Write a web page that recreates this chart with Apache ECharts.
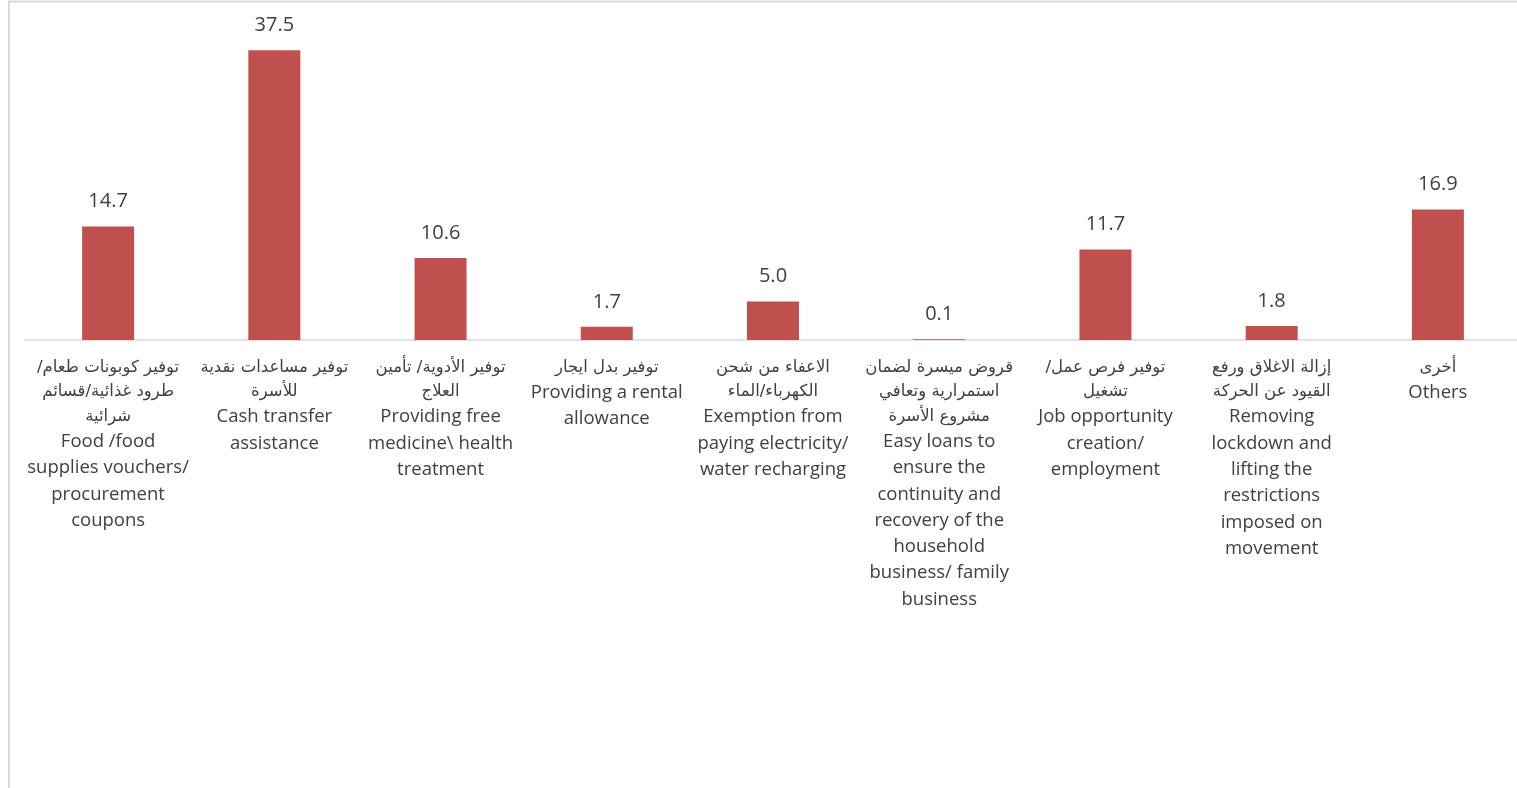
<!DOCTYPE html>
<html>
<head>
<meta charset="utf-8">
<script src="https://cdn.jsdelivr.net/npm/echarts@6/dist/echarts.min.js"></script>
<style>
  html, body { margin: 0; padding: 0; background: #ffffff; overflow: hidden; }
  #chart { width: 1525px; height: 788px; }
</style>
</head>
<body>
<div id="chart"></div>
<script>
// Arabic and English category names (line breaks as displayed);
// \u200F keeps a trailing slash on the right-to-left side of the line
const categoriesAr = [
  'توفير كوبونات طعام/\u200F\nطرود غذائية/قسائم\nشرائية',
  'توفير مساعدات نقدية\nللأسرة',
  'توفير الأدوية/ تأمين\nالعلاج',
  'توفير بدل ايجار',
  'الاعفاء من شحن\nالكهرباء/الماء',
  'قروض ميسرة لضمان\nاستمرارية وتعافي\nمشروع الأسرة',
  'توفير فرص عمل/\u200F\nتشغيل',
  'إزالة الاغلاق ورفع\nالقيود عن الحركة',
  'أخرى'
];
const categoriesEn = [
  'Food /food\nsupplies vouchers/\nprocurement\ncoupons',
  'Cash transfer\nassistance',
  'Providing free\nmedicine\\ health\ntreatment',
  'Providing a rental\nallowance',
  'Exemption from\npaying electricity/\nwater recharging',
  'Easy loans to\nensure the\ncontinuity and\nrecovery of the\nhousehold\nbusiness/ family\nbusiness',
  'Job opportunity\ncreation/\nemployment',
  'Removing\nlockdown and\nlifting the\nrestrictions\nimposed on\nmovement',
  'Others'
];
// Percentages per category
const values = [14.7, 37.5, 10.6, 1.7, 5.0, 0.1, 11.7, 1.8, 16.9];

const categories = categoriesEn.map((en, i) => en);

// Each label: Arabic lines in a smaller style, then the English lines
function labelText(value, index) {
  const ar = categoriesAr[index].split('\n').map(l => '{ar|' + l + '}');
  const en = categoriesEn[index].split('\n').map(l => '{en|' + l + '}');
  return ar.concat(en).join('\n');
}

const chart = echarts.init(document.getElementById('chart'), null, { renderer: 'canvas' });

chart.setOption({
  animation: false,
  backgroundColor: '#ffffff',
  graphic: [{
    type: 'rect',
    z: -10,
    shape: { x: 9, y: 1.5, width: 1700, height: 1000 },
    style: { fill: 'none', stroke: '#d9d9d9', lineWidth: 2 }
  }],
  grid: { left: 25, width: 1496, top: 31, height: 309, containLabel: false },
  xAxis: {
    type: 'category',
    data: categories,
    axisLine: { show: true, lineStyle: { color: '#d9d9d9', width: 1.5 } },
    axisTick: { show: false },
    axisLabel: {
      interval: 0,
      margin: 15,
      color: '#404040',
      align: 'center',
      verticalAlign: 'top',
      formatter: labelText,
      rich: {
        ar: {
          fontSize: 16.5,
          lineHeight: 24.5,
          color: '#404040',
          fontFamily: 'DejaVu Sans, sans-serif'
        },
        en: {
          fontSize: 18.5,
          lineHeight: 26.3,
          color: '#404040',
          fontFamily: 'Open Sans, sans-serif'
        }
      }
    }
  },
  yAxis: {
    type: 'value',
    min: 0,
    max: 40,
    show: false,
    splitLine: { show: false }
  },
  series: [{
    type: 'bar',
    data: values,
    barWidth: 52,
    itemStyle: { color: '#c0504d' },
    label: {
      show: true,
      position: 'top',
      distance: 15,
      color: '#404040',
      fontSize: 20,
      fontFamily: 'Open Sans, sans-serif',
      formatter: p => p.value.toFixed(1)
    }
  }]
});
</script>
</body>
</html>
